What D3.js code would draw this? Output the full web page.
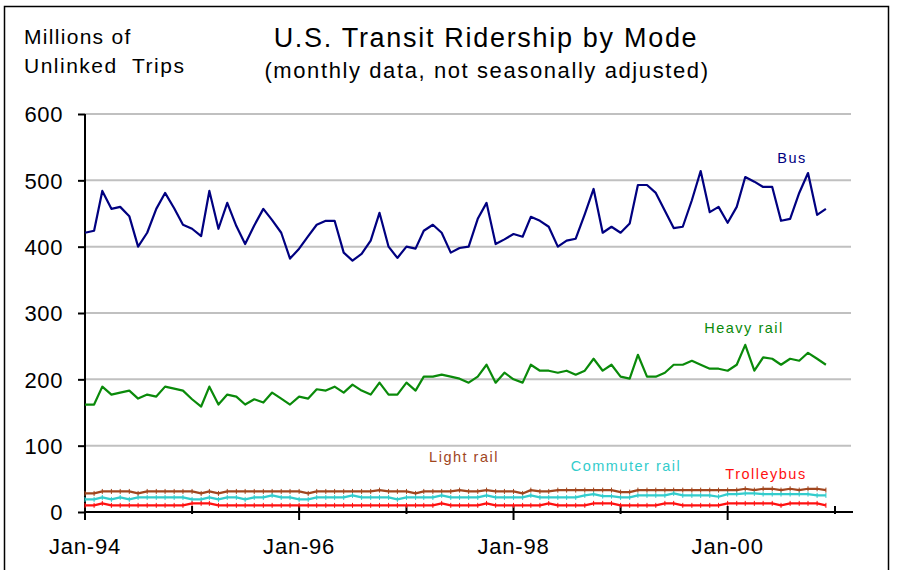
<!DOCTYPE html>
<html>
<head>
<meta charset="utf-8">
<script src="https://cdn.jsdelivr.net/npm/d3@7"></script>
<style>
  body { margin: 0; background: #fff; }
  svg { font-family: "Liberation Sans", Arial, sans-serif; }
</style>
</head>
<body>
<svg width="900" height="570"></svg>
<script>
// monthly values, Jan-94 .. Dec-00 (millions of unlinked trips)
const bus = [421,424,484,457,460,446,400,421,457,481,458,433,
  427,416,484,427,466,431,404,432,457,440,421,382,
  397,416,433,439,439,391,379,389,409,451,400,383,
  400,397,424,433,421,391,398,400,442,466,404,411,
  419,415,445,439,430,400,409,412,449,487,421,430,
  421,435,493,493,481,454,428,430,470,514,452,460,
  436,460,505,498,490,490,439,442,481,511,448,457]

const heavyRail = [162,162,189,177,180,183,171,177,174,189,186,183,
  170,159,189,162,177,174,162,170,165,180,171,162,
  174,171,185,183,189,180,192,183,177,195,177,177,
  195,183,204,204,207,204,201,195,204,222,195,210,
  200,195,222,213,213,210,213,207,213,231,213,222,
  204,201,237,204,204,210,222,222,228,222,216,216,
  213,222,252,213,233,231,222,231,228,240,231,222]

const lightRail = [28,28,31,31,31,31,28,31,31,31,31,31,
  31,28,31,28,31,31,31,31,31,31,31,31,
  31,28,31,31,31,31,31,31,31,33,31,31,
  31,28,31,31,31,31,33,31,31,33,31,31,
  31,28,33,31,31,33,33,33,33,33,33,33,
  30,30,33,33,33,33,33,33,33,33,33,33,
  33,33,35,33,35,35,33,35,33,35,35,33]

const commuterRail = [19,19,22,19,22,19,22,22,22,22,22,22,
  19,19,22,19,22,22,19,22,22,25,22,22,
  19,19,22,22,22,22,25,22,22,22,22,19,
  22,22,22,22,25,22,22,22,22,25,22,22,
  22,22,25,22,22,22,22,22,25,27,24,24,
  22,22,25,25,25,25,28,25,25,25,25,23,
  27,27,28,28,27,27,27,27,27,27,25,25]

const trolleybus = [10,10,13,10,10,10,10,10,10,10,10,10,
  13,13,13,10,10,10,10,10,10,10,10,10,
  10,10,10,10,10,10,10,10,10,10,10,10,
  10,10,10,10,13,10,10,10,10,13,10,10,
  10,10,10,10,13,10,10,10,10,13,13,13,
  10,10,10,10,10,13,13,10,10,10,10,10,
  13,13,13,13,13,13,10,13,13,13,13,10]

const yTicks = [0,100,200,300,400,500,600]
const majorYears = [1994,1996,1998,2000]
const minorYears = [1995,1997,1999,2001]
const monthDate = (i) => new Date(1994, i, 1)

const svg = d3.select("svg")

const x = d3.scaleTime()
  .domain([new Date(1994,0,1), new Date(2001,0,1)])
  .range([85, 835])
const y = d3.scaleLinear()
  .domain([0, 600])
  .range([512, 114])

// outer frame
svg.append("rect")
  .attr("x", 4.5).attr("y", 6.5)
  .attr("width", 884).attr("height", 600)
  .attr("fill", "none").attr("stroke", "#000").attr("stroke-width", 1.5)

// titles
svg.append("text").attr("x", 486).attr("y", 47)
  .attr("text-anchor", "middle").style("font-size", "27px").style("letter-spacing", "1.7px")
  .text("U.S. Transit Ridership by Mode")
svg.append("text").attr("x", 487).attr("y", 78)
  .attr("text-anchor", "middle").style("font-size", "22px").style("letter-spacing", "1.6px")
  .text("(monthly data, not seasonally adjusted)")
svg.append("text").attr("x", 24).attr("y", 44)
  .style("font-size", "21px").style("letter-spacing", "1.3px")
  .text("Millions of")
svg.append("text").attr("x", 24).attr("y", 73)
  .style("font-size", "21px").style("letter-spacing", "1.5px")
  .attr("xml:space", "preserve")
  .text("Unlinked  Trips")

// gridlines
svg.append("g")
  .selectAll("line")
  .data(yTicks.filter(d => d > 0))
  .enter().append("line")
    .attr("x1", 85).attr("x2", 851)
    .attr("y1", d => y(d)).attr("y2", d => y(d))
    .style("stroke", "#c0c0c0").style("stroke-width", 2)

// y axis
const yAxis = svg.append("g")
  .attr("transform", "translate(85,0)")
  .call(d3.axisLeft(y).tickValues(yTicks).tickSize(7).tickPadding(15))
yAxis.select(".domain").attr("stroke-width", 2).attr("d", "M0," + y(600) + "V" + y(0))
yAxis.selectAll(".tick line").attr("stroke-width", 2)
yAxis.selectAll(".tick text")
  .style("font-size", "22px").style("font-family", "Liberation Sans, Arial, sans-serif")
  .style("letter-spacing", "0.6px").attr("dy", "0.36em")

// x axis
const xg = svg.append("g").attr("transform", "translate(0," + y(0) + ")")
xg.append("line").attr("x1", 85).attr("x2", 853)
  .style("stroke", "#000").style("stroke-width", 2)
xg.selectAll(".major")
  .data(majorYears)
  .enter().append("line")
    .attr("x1", d => x(new Date(d,0,1))).attr("x2", d => x(new Date(d,0,1)))
    .attr("y1", -6).attr("y2", 8)
    .style("stroke", "#000").style("stroke-width", 2)
xg.selectAll(".minor")
  .data(minorYears)
  .enter().append("line")
    .attr("x1", d => x(new Date(d,0,1))).attr("x2", d => x(new Date(d,0,1)))
    .attr("y1", -6).attr("y2", 2)
    .style("stroke", "#000").style("stroke-width", 2)
xg.selectAll(".xlab")
  .data(majorYears)
  .enter().append("text")
    .attr("x", d => x(new Date(d,0,1)))
    .attr("y", 42)
    .attr("text-anchor", "middle")
    .style("font-size", "22px").style("letter-spacing", "0.8px")
    .text(d => "Jan-" + String(d).slice(2))

// series
const series = [
  {name: "Bus", values: bus, color: "#000080", lx: 792, ly: 163},
  {name: "Heavy rail", values: heavyRail, color: "#0a8a0a", lx: 744, ly: 333},
  {name: "Light rail", values: lightRail, color: "#a0461e", lx: 464, ly: 462},
  {name: "Commuter rail", values: commuterRail, color: "#33cccc", lx: 626, ly: 471},
  {name: "Trolleybus", values: trolleybus, color: "#ff1010", lx: 766, ly: 479}
]

const line = d3.line()
  .x((d, i) => x(monthDate(i)))
  .y(d => y(d))

series.forEach(function(s) {
  svg.append("path")
    .datum(s.values)
    .attr("d", line)
    .style("fill", "none")
    .style("stroke", s.color)
    .style("stroke-width", 2.2)
    .style("stroke-linejoin", "round")
  // small dash markers on the low series
  if (s.values === bus || s.values === heavyRail) return
  svg.append("g").selectAll("line")
    .data(s.values)
    .enter().append("line")
      .attr("x1", (d, i) => x(monthDate(i))).attr("x2", (d, i) => x(monthDate(i)))
      .attr("y1", d => y(d) - 2.5).attr("y2", d => y(d) + 2.5)
      .style("stroke", s.color).style("stroke-width", 1)
  })

svg.selectAll(".slabel")
  .data(series)
  .enter().append("text")
    .attr("x", d => d.lx).attr("y", d => d.ly)
    .attr("text-anchor", "middle")
    .style("fill", d => d.color)
    .style("font-size", "14.5px")
    .style("letter-spacing", "1.5px")
    .text(d => d.name)
</script>
</body>
</html>
